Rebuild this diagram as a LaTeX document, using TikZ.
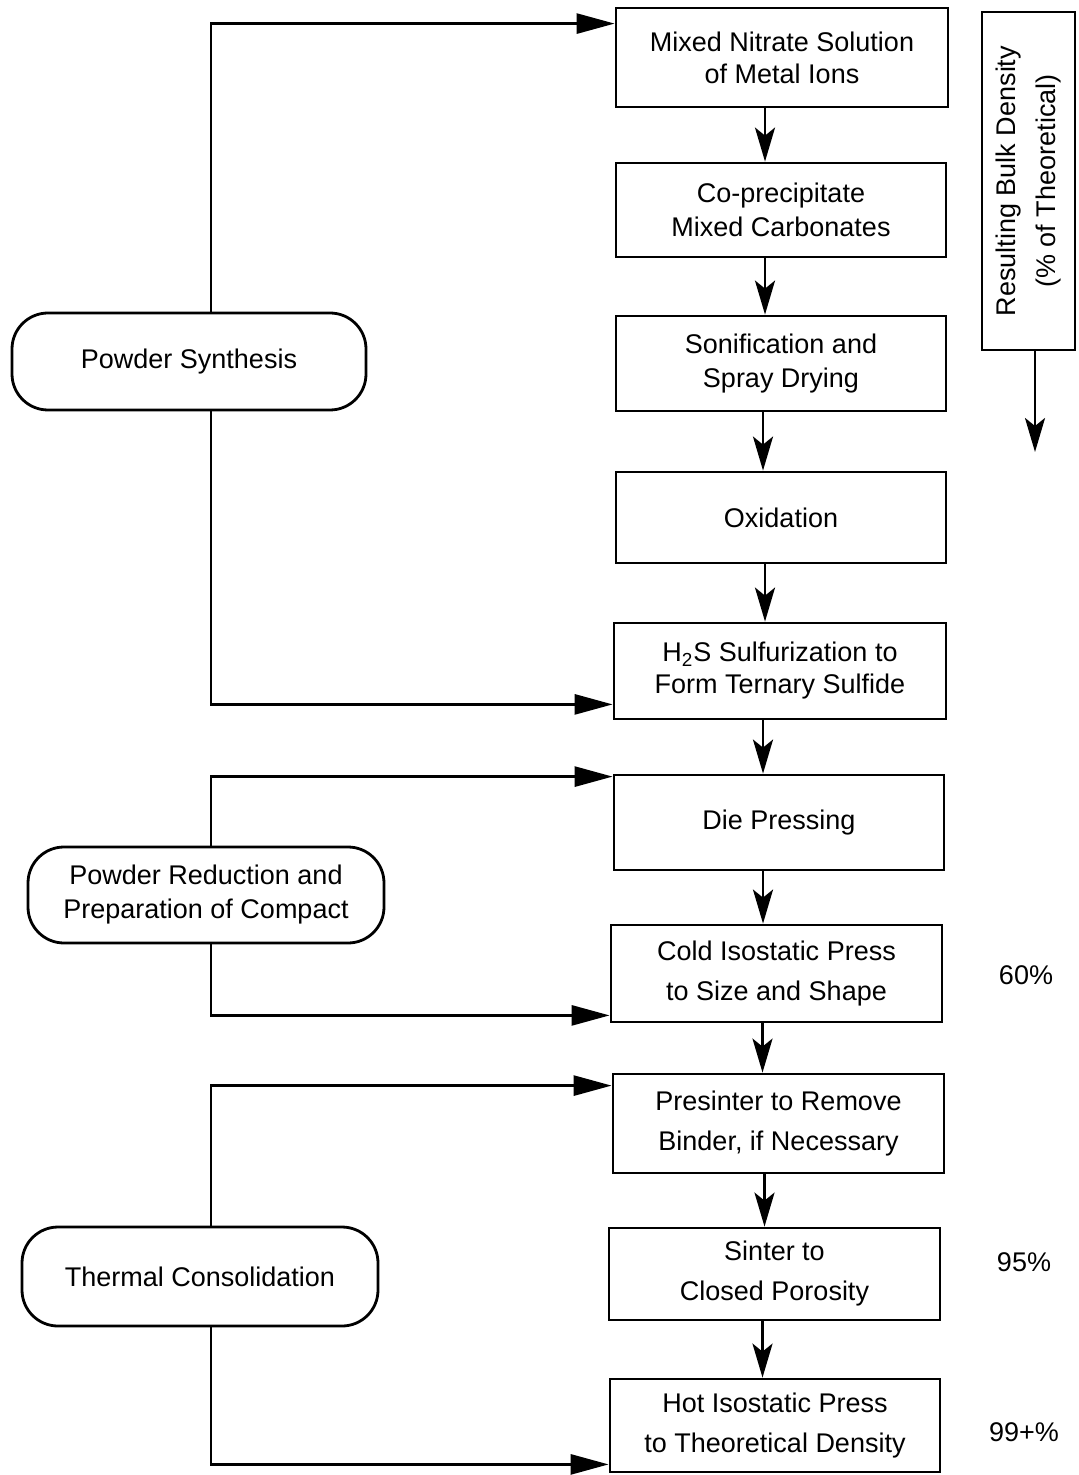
\documentclass[tikz,border=0pt]{standalone}
\usepackage{fontspec}
\setmainfont{Liberation Sans}
\usetikzlibrary{arrows.meta}
\begin{document}
\begin{tikzpicture}[x=0.5pt,y=-0.5pt,
  line width=1.4pt,
  font=\fontsize{13.5}{17}\selectfont,
  proc/.style={draw, rectangle, align=center, inner sep=0pt},
  wide/.style={font=\fontsize{13.5}{20}\selectfont},
  tight/.style={font=\fontsize{13.5}{16}\selectfont},
  phase/.style={draw, rounded corners=18pt, align=center, inner sep=0pt},
  varr/.style={-{Stealth[length=17pt,width=10pt,inset=4pt]}},
  harr/.style={-{Triangle[length=19pt,width=10pt]}},
]
\useasboundingbox (0,0) rectangle (1078,1475);

% main column
\node[proc, tight, minimum width=166pt, minimum height=49.5pt] (b1) at (782,57.5) {Mixed Nitrate Solution\\of Metal Ions};
\node[proc, minimum width=165pt, minimum height=47pt] (b2) at (781,210) {Co-precipitate\\Mixed Carbonates};
\node[proc, minimum width=165pt, minimum height=47.5pt] (b3) at (781,363.5) {Sonification and\\Spray Drying};
\node[proc, minimum width=165pt, minimum height=45.5pt] (b4) at (781,517.5) {Oxidation};
\node[proc, tight, minimum width=166pt, minimum height=48pt] (b5) at (780,671) {H\textsubscript{2}S Sulfurization to\\Form Ternary Sulfide};
\node[proc, minimum width=165pt, minimum height=47.5pt] (b6) at (779,822.5) {Die Pressing};
\node[proc, wide, minimum width=165.5pt, minimum height=48.5pt] (b7) at (776.5,973.5) {Cold Isostatic Press\\to Size and Shape};
\node[proc, wide, minimum width=165.5pt, minimum height=49.5pt] (b8) at (778.5,1123.5) {Presinter to Remove\\Binder, if Necessary};
\node[proc, wide, minimum width=165.5pt, minimum height=46pt] (b9) at (774.5,1274) {Sinter to\\Closed Porosity};
\node[proc, wide, minimum width=165pt, minimum height=46.5pt] (b10) at (775,1425.5) {Hot Isostatic Press\\to Theoretical Density};

% vertical arrows
\draw[varr] ([xshift=-8.5pt]b1.south) -- ([xshift=-8.5pt]b1.south |- b2.north);
\draw[varr] ([xshift=-8pt]b2.south) -- ([xshift=-8pt]b2.south |- b3.north);
\draw[varr] ([xshift=-9pt]b3.south) -- ([xshift=-9pt]b3.south |- b4.north);
\draw[varr] ([xshift=-8pt]b4.south) -- ([xshift=-8pt]b4.south |- b5.north);
\draw[varr] ([xshift=-8.5pt]b5.south) -- ([xshift=-8.5pt]b5.south |- b6.north);
\draw[varr] ([xshift=-8pt]b6.south) -- ([xshift=-8pt]b6.south |- b7.north);
\draw[varr] ([xshift=-7pt]b7.south) -- ([xshift=-7pt]b7.south |- b8.north);
\draw[varr] ([xshift=-7pt]b8.south) -- ([xshift=-7pt]b8.south |- b9.north);
\draw[varr] ([xshift=-6pt]b9.south) -- ([xshift=-6pt]b9.south |- b10.north);

% phase boxes
\node[phase, minimum width=177pt, minimum height=48.5pt] (A) at (189,361.5) {Powder Synthesis};
\node[phase, minimum width=178pt, minimum height=48pt] (B) at (206,895) {Powder Reduction and\\Preparation of Compact};
\node[phase, minimum width=178pt, minimum height=49.5pt] (C) at (200,1276.5) {Thermal Consolidation};

\draw[harr] ([xshift=11pt]A.north) |- ([yshift=-8.5pt]b1.north west);
\draw[harr] ([xshift=11pt]A.south) |- ([yshift=8pt]b5.south west);
\draw[harr] ([xshift=2.5pt]B.north) |- ([yshift=-1.5pt]b6.north west);
\draw[harr] ([xshift=2.5pt]B.south) |- ([yshift=4pt]b7.south west);
\draw[harr] ([xshift=5.5pt]C.north) |- ([yshift=-6.5pt]b8.north west);
\draw[harr] ([xshift=5.5pt]C.south) |- ([yshift=4.5pt]b10.south west);

% density legend
\node[draw, rotate=90, align=center, inner sep=0pt, minimum width=169pt, minimum height=46.5pt, font=\fontsize{13.5}{20}\selectfont] (R) at (1028.5,181) {Resulting Bulk Density\\(\% of Theoretical)};
\coordinate (Rend) at (1035,452);
\draw[varr] ([xshift=3.25pt]R.west) -- (Rend);

\node (p60) at (1026,975) {60\%};
\node (p95) at (1024,1262) {95\%};
\node (p99) at (1024,1432) {99+\%};
\end{tikzpicture}
\end{document}
